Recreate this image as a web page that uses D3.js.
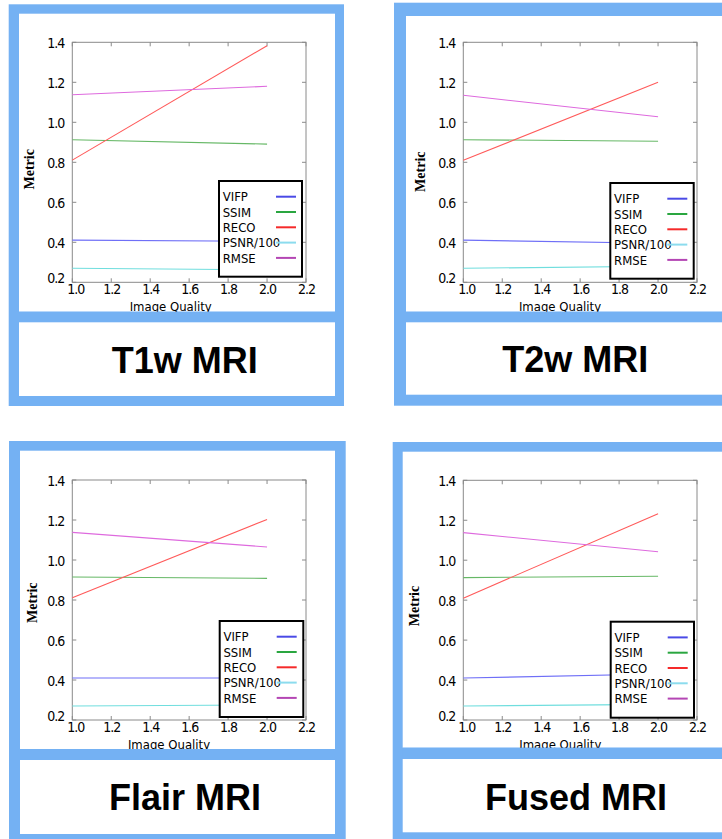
<!DOCTYPE html>
<html>
<head>
<meta charset="utf-8">
<script src="https://cdn.jsdelivr.net/npm/d3@7"></script>
<style>
  html, body { margin: 0; padding: 0; background: #fff; }
  svg { display: block; }
  .tick-label { font-family: "DejaVu Sans Condensed", "DejaVu Sans", sans-serif; font-stretch: condensed; font-size: 14px; fill: #000; letter-spacing: -1px; }
  .leg-label { font-family: "DejaVu Sans Condensed", "DejaVu Sans", sans-serif; font-stretch: condensed; font-size: 13px; fill: #000; }
  .xlab { font-family: "DejaVu Sans Condensed", "DejaVu Sans", sans-serif; font-stretch: condensed; font-size: 13px; fill: #000; }
  .ylab { font-family: "Liberation Serif", serif; font-weight: bold; font-size: 14px; fill: #000; }
  .title { font-family: "Liberation Sans", Arial, sans-serif; font-weight: bold; font-size: 36px; fill: #000; }
</style>
</head>
<body>
<svg id="chart" width="722" height="839"></svg>
<script>
// ---------- data ----------
const panelTitles = ["T1w MRI", "T2w MRI", "Flair MRI", "Fused MRI"];
const seriesNames = ["VIFP", "SSIM", "RECO", "PSNR/100", "RMSE"];
const imageQuality = [1.0, 2.0];
// values per panel: [at quality 1.0, at quality 2.0]
const vifp    = [[0.411, 0.405], [0.411, 0.395], [0.410, 0.410], [0.410, 0.430]];
const ssim    = [[0.913, 0.891], [0.913, 0.905], [0.915, 0.908], [0.913, 0.920]];
const reco    = [[0.811, 1.383], [0.810, 1.200], [0.811, 1.203], [0.810, 1.233]];
const psnr100 = [[0.270, 0.262], [0.270, 0.280], [0.270, 0.275], [0.270, 0.278]];
const rmse    = [[1.138, 1.180], [1.135, 1.028], [1.138, 1.065], [1.138, 1.042]];
const yTicks = [0.2, 0.4, 0.6, 0.8, 1.0, 1.2, 1.4];
const xTicks = [1.0, 1.2, 1.4, 1.6, 1.8, 2.0, 2.2];
const xLabel = "Image Quality";
const yLabel = "Metric";

// ---------- styling ----------
const lineColors   = ["#6f6ff7", "#66b866", "#ff5a5a", "#70dede", "#de6ade"];
const legendColors = ["#4a4ae6", "#2aa640", "#f52a2a", "#8cdcee", "#b446b4"];
const seriesValues = [vifp, ssim, reco, psnr100, rmse];
const BLUE = "#74b1f3";

// ---------- layout ----------
const layout = [
  { outer: [8.7, 4.3, 344, 406], inner: [19, 13.7, 335, 311.7], titleBox: [19, 322.3, 335, 396],
    plot: [72.3, 42.3, 306, 282.3], legend: [219, 181, 302, 276.7],
    ylabX: 29.3, ylabY: 169.3, xlabX: 170.7, titleX: 184.7, titleY: 373.3 },
  { outer: [394, 2.7, 760, 405.7], inner: [406, 16, 760, 311.7], titleBox: [406, 322.3, 760, 394.7],
    plot: [463.3, 42.3, 697, 282.3], legend: [610.3, 183, 693.7, 278.7],
    ylabX: 420.3, ylabY: 171.7, xlabX: 560, titleX: 575.3, titleY: 372.3 },
  { outer: [9, 441, 345.7, 880], inner: [20, 450.7, 335, 749], titleBox: [20, 760, 335, 834],
    plot: [72.3, 480, 306, 720], legend: [219.7, 621, 303.3, 717],
    ylabX: 32.3, ylabY: 602.7, xlabX: 169, titleX: 185, titleY: 810 },
  { outer: [392.7, 442, 760, 880], inner: [402.7, 451.7, 760, 747.7], titleBox: [402.7, 759, 760, 832.3],
    plot: [463.3, 480.3, 697, 720], legend: [610.7, 621.7, 694, 717.7],
    ylabX: 414.3, ylabY: 606, xlabX: 560.3, titleX: 576, titleY: 810 }
];

const svg = d3.select("#chart");
const rectFrom = (sel, r, fill) => sel.append("rect")
  .attr("x", r[0]).attr("y", r[1]).attr("width", r[2] - r[0]).attr("height", r[3] - r[1]).attr("fill", fill);

panelTitles.forEach((title, p) => {
  const L = layout[p];
  const g = svg.append("g");
  rectFrom(g, L.outer, BLUE);
  rectFrom(g, L.inner, "#fff");

  const [x0, y0, x1, y1] = L.plot;
  const x = d3.scaleLinear().domain([1.0, 2.2]).range([x0, x1]);
  const y = d3.scaleLinear().domain([0.2, 1.4]).range([y1, y0]);

  // frame
  g.append("rect").attr("x", x0).attr("y", y0).attr("width", x1 - x0).attr("height", y1 - y0)
    .attr("fill", "none").attr("stroke", "#8a8a8a").attr("stroke-width", 1);

  // inward ticks on all sides
  const tk = 4;
  const tickG = g.append("g").attr("stroke", "#8a8a8a").attr("stroke-width", 1);
  xTicks.forEach(t => {
    tickG.append("line").attr("x1", x(t)).attr("x2", x(t)).attr("y1", y1).attr("y2", y1 - tk);
    tickG.append("line").attr("x1", x(t)).attr("x2", x(t)).attr("y1", y0).attr("y2", y0 + tk);
  });
  yTicks.forEach(t => {
    tickG.append("line").attr("x1", x0).attr("x2", x0 + tk).attr("y1", y(t)).attr("y2", y(t));
    tickG.append("line").attr("x1", x1).attr("x2", x1 - tk).attr("y1", y(t)).attr("y2", y(t));
  });

  // tick labels via d3 axes (domain/tick lines hidden)
  const yAxis = d3.axisLeft(y).tickValues(yTicks).tickFormat(d3.format(".1f")).tickSize(0).tickPadding(8);
  const ya = g.append("g").attr("transform", `translate(${x0},0)`).call(yAxis);
  ya.select(".domain").remove();
  ya.selectAll("text").attr("class", "tick-label").attr("font-family", null).attr("font-size", null)
    .attr("dy", d => d === 0.2 ? "0.02em" : "0.4em");

  const xAxis = d3.axisBottom(x).tickValues(xTicks).tickFormat(d3.format(".1f")).tickSize(0).tickPadding(2);
  const xa = g.append("g").attr("transform", `translate(0,${y1})`).call(xAxis);
  xa.select(".domain").remove();
  xa.selectAll("text").attr("class", "tick-label").attr("font-family", null).attr("font-size", null)
    .attr("dx", d => d === 1.0 ? "3px" : 0);

  // series lines
  const line = d3.line().x(d => x(d[0])).y(d => y(d[1]));
  seriesValues.forEach((vals, s) => {
    const pts = imageQuality.map((q, i) => [q, vals[p][i]]);
    g.append("path").attr("d", line(pts)).attr("fill", "none")
      .attr("stroke", lineColors[s]).attr("stroke-width", 1.1);
  });

  // legend
  const [lx0, ly0, lx1, ly1] = L.legend;
  g.append("rect").attr("x", lx0).attr("y", ly0).attr("width", lx1 - lx0).attr("height", ly1 - ly0)
    .attr("fill", "#fff").attr("stroke", "#000").attr("stroke-width", 2);
  seriesNames.forEach((name, s) => {
    const cy = ly0 + 15.7 + s * 15.3;
    g.append("text").attr("class", "leg-label").attr("x", lx0 + 3.7).attr("y", cy).attr("dy", "0.36em").text(name);
    g.append("line").attr("x1", lx0 + 57).attr("x2", lx0 + 77).attr("y1", cy).attr("y2", cy)
      .attr("stroke", legendColors[s]).attr("stroke-width", 2);
  });

  // axis labels
  g.append("text").attr("class", "xlab").attr("x", L.xlabX).attr("y", y1 + 28.5)
    .attr("text-anchor", "middle").text(xLabel);
  g.append("text").attr("class", "ylab")
    .attr("transform", `translate(${L.ylabX},${L.ylabY}) rotate(-90)`)
    .attr("text-anchor", "middle").attr("dy", "0.35em").text(yLabel);

  // separator band and title box
  g.append("rect").attr("x", L.inner[0]).attr("y", L.inner[3]).attr("width", L.inner[2] - L.inner[0])
    .attr("height", L.titleBox[1] - L.inner[3]).attr("fill", BLUE);
  rectFrom(g, L.titleBox, "#fff");
  g.append("text").attr("class", "title").attr("x", L.titleX).attr("y", L.titleY)
    .attr("text-anchor", "middle").text(title);
});
</script>
</body>
</html>
